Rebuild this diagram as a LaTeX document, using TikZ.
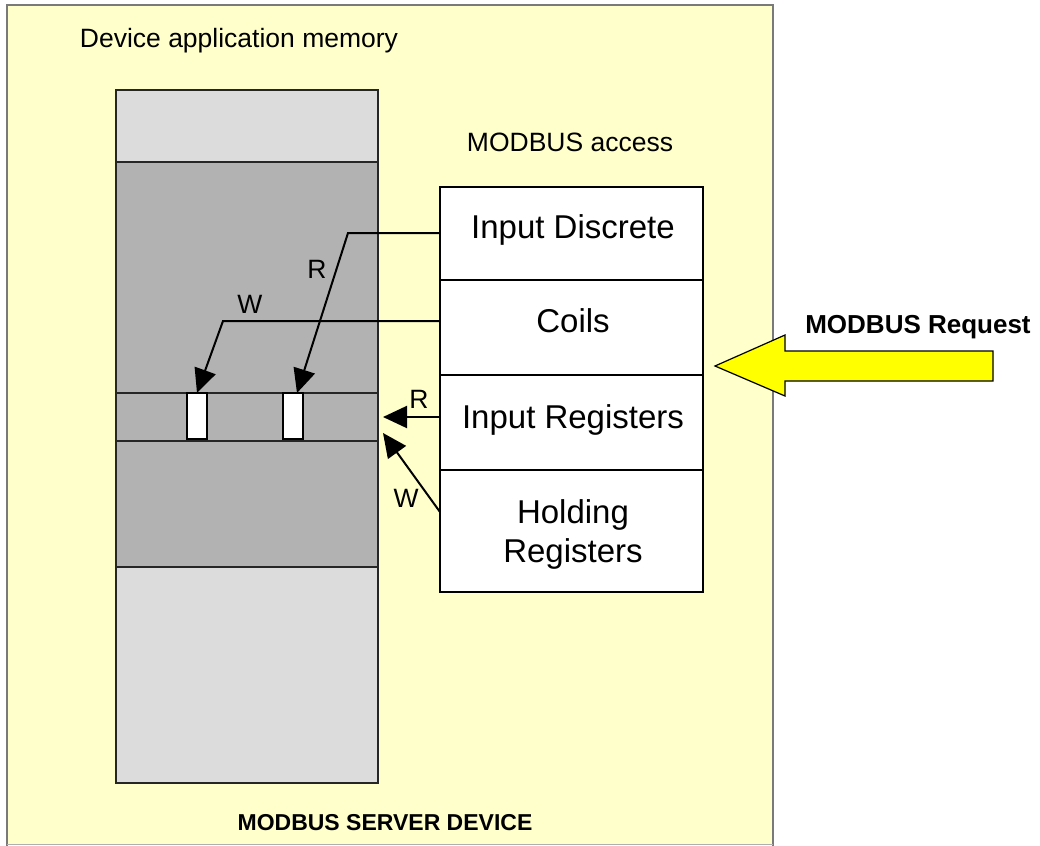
\documentclass[tikz,border=0pt]{standalone}
\usepackage{fontspec}
\setmainfont{Liberation Sans}
\usetikzlibrary{arrows.meta}
\definecolor{bgyellow}{HTML}{FFFFCC}
\definecolor{lightmem}{HTML}{DCDCDC}
\definecolor{darkmem}{HTML}{B2B2B2}
\definecolor{framegray}{HTML}{7A7A7A}
\definecolor{reqyellow}{HTML}{FFFF00}
\tikzset{
  memblock/.style={draw=black!85, line width=2pt, inner sep=0pt, outer sep=0pt},
  cellbox/.style={draw=black, line width=2pt, fill=white, inner sep=0pt, outer sep=0pt, minimum width=263pt},
  slot/.style={draw=black, line width=1.5pt, fill=white, inner sep=0pt, outer sep=0pt, minimum width=20pt, minimum height=46pt},
  plain/.style={font=\fontsize{26.5}{32}\selectfont, inner sep=0pt, anchor=base},
  celltext/.style={font=\fontsize{33}{39}\selectfont, inner sep=0pt, anchor=base},
  link/.style={draw=black, line width=2pt, -{Triangle[length=24pt,width=22pt]}},
  wire/.style={draw=black, line width=2pt}
}
\begin{document}
\begin{tikzpicture}[x=1pt,y=-1pt]
\useasboundingbox (0,0) rectangle (1040,845);
% outer device frame
\fill[bgyellow] (7,5) rectangle (773,845);
\draw[framegray, line width=2.5pt] (7,846) -- (7,5) -- (773,5) -- (773,846);
\draw[framegray!60, line width=1pt] (7,844.5) -- (773,844.5);
\node[plain] (devmem) at (239,48) {Device application memory};
\node[font=\fontsize{23}{28}\selectfont\bfseries, inner sep=0pt, anchor=base] (server) at (385,830) {MODBUS SERVER DEVICE};

% memory column
\node[memblock, fill=lightmem, minimum width=262pt, minimum height=72pt, anchor=north west] (memtop) at (116,90) {};
\node[memblock, fill=darkmem, minimum width=262pt, minimum height=405pt, anchor=north west] (memmid) at (116,162) {};
\node[memblock, fill=lightmem, minimum width=262pt, minimum height=216pt, anchor=north west] (membot) at (116,567) {};
\node[memblock, fill=darkmem, minimum width=262pt, minimum height=48pt, anchor=north west] (band) at (116,393) {};
\node[slot, anchor=north west] (slotw) at (187,393) {};
\node[slot, anchor=north west] (slotr) at (283,393) {};

% MODBUS access table
\node[plain] (access) at (570,152) {MODBUS access};
\node[cellbox, minimum height=93pt, anchor=north west] (idisc) at (440,187) {};
\node[cellbox, minimum height=95pt, anchor=north west] (coils) at (440,280) {};
\node[cellbox, minimum height=95pt, anchor=north west] (ireg) at (440,375) {};
\node[cellbox, minimum height=122pt, anchor=north west] (hreg) at (440,470) {};
\node[celltext] (tidisc) at (573,238) {Input Discrete};
\node[celltext] (tcoils) at (573,332) {Coils};
\node[celltext] (tireg) at (573,428) {Input Registers};
\node[celltext] (thold1) at (573,523) {Holding};
\node[celltext] (thold2) at (573,562) {Registers};

% connectors
\coordinate (rbend) at (348,233);
\coordinate (wbend) at (223,321);
\coordinate (rtip) at (297,393);
\coordinate (wtip) at (197,393);
\draw[link] (idisc.west |- rbend) -- (rbend) -- (rtip);
\draw[link] (coils.west |- wbend) -- (wbend) -- (wtip);
\coordinate (irtip) at (383,417);
\coordinate (hrtip) at (383,433);
\coordinate (hrstart) at (440,512);
\draw[link] (ireg.west |- irtip) -- (irtip);
\draw[link] (hrstart) -- (hrtip);
\node[plain] (lr1) at (317,278) {R};
\node[plain] (lw1) at (250,313) {W};
\node[plain] (lr2) at (419,408) {R};
\node[plain] (lw2) at (406,507) {W};

% MODBUS request arrow
\draw[fill=reqyellow, draw=black, line width=1.2pt, line join=miter]
  (715,366) -- (785,335) -- (785,351) -- (993,351) -- (993,381) -- (785,381) -- (785,396) -- cycle;
\node[font=\fontsize{26}{31}\selectfont\bfseries, inner sep=0pt, anchor=base] (request) at (918,333) {MODBUS Request};
\end{tikzpicture}
\end{document}
